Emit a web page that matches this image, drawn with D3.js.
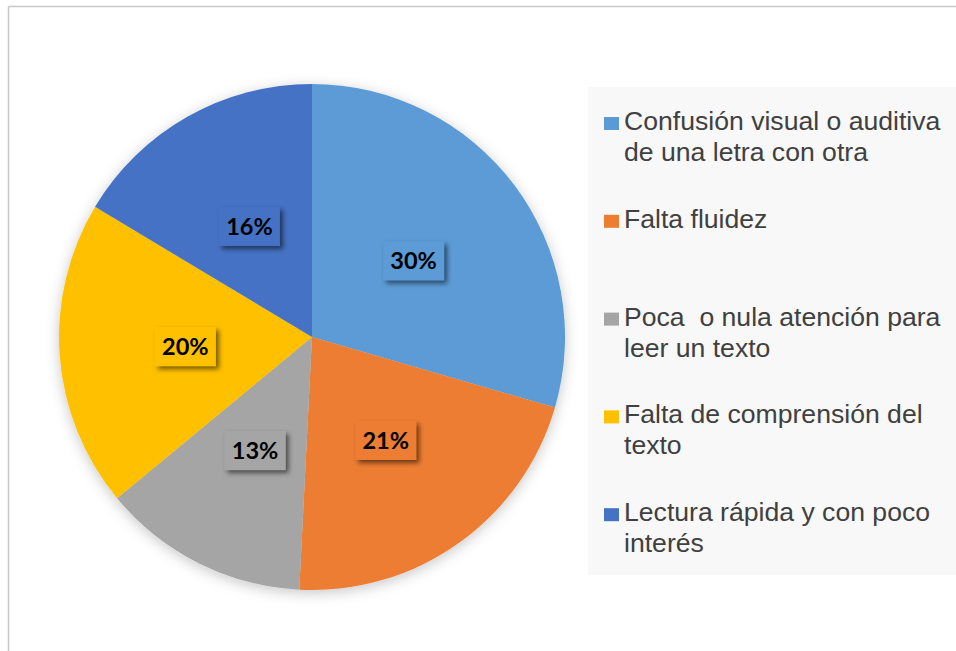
<!DOCTYPE html>
<html>
<head>
<meta charset="utf-8">
<script src="https://cdn.jsdelivr.net/npm/d3@7/dist/d3.min.js"></script>
<style>
  html, body { margin: 0; padding: 0; background: #ffffff; }
  svg { display: block; }
  text { white-space: pre; }
</style>
</head>
<body>
<svg id="chart" width="956" height="651"></svg>
<script>
// Data
const categories = [
  "Confusión visual o auditiva de una letra con otra",
  "Falta fluidez",
  "Poca  o nula atención para leer un texto",
  "Falta de comprensión del texto",
  "Lectura rápida y con poco interés"
];
const legendLines = [
  ["Confusión visual o auditiva", "de una letra con otra"],
  ["Falta fluidez"],
  ["Poca  o nula atención para", "leer un texto"],
  ["Falta de comprensión del", "texto"],
  ["Lectura rápida y con poco", "interés"]
];
const values = [29.5, 21.3, 13.2, 19.6, 16.4];
const valueLabels = ["30%", "21%", "13%", "20%", "16%"];
const colors = ["#5B9BD5", "#ED7D31", "#A5A5A5", "#FFC000", "#4472C4"];

const svg = d3.select("#chart");
const W = 956, H = 651;

// defs: shadows
const defs = svg.append("defs");
const pieShadow = defs.append("filter").attr("id", "pieShadow")
  .attr("x", "-20%").attr("y", "-20%").attr("width", "140%").attr("height", "140%");
pieShadow.append("feDropShadow").attr("dx", 0).attr("dy", 3).attr("stdDeviation", 7)
  .attr("flood-color", "#000").attr("flood-opacity", 0.22);
const lblShadow = defs.append("filter").attr("id", "lblShadow")
  .attr("x", "-30%").attr("y", "-30%").attr("width", "160%").attr("height", "160%");
lblShadow.append("feDropShadow").attr("dx", 3).attr("dy", 3).attr("stdDeviation", 2.5)
  .attr("flood-color", "#000").attr("flood-opacity", 0.55);

// Chart frame (top and left edges visible)
svg.append("line").attr("x1", 8.5).attr("y1", 6.5).attr("x2", W).attr("y2", 6.5)
  .attr("stroke", "#c8c8c8").attr("stroke-width", 1.5);
svg.append("line").attr("x1", 8.5).attr("y1", 6.5).attr("x2", 8.5).attr("y2", H)
  .attr("stroke", "#c8c8c8").attr("stroke-width", 1.5);

// Legend background
const legendX = 588, legendY = 87, legendW = W - 588, legendH = 575 - 87;
svg.append("rect").attr("x", legendX).attr("y", legendY)
  .attr("width", legendW).attr("height", legendH).attr("fill", "#f8f8f8");

// Pie
const cx = 312, cy = 337, R = 253;
const pie = d3.pie().sort(null).value(d => d)(values);
const arc = d3.arc().innerRadius(0).outerRadius(R);
const labelArc = d3.arc().innerRadius(127).outerRadius(127);

const g = svg.append("g").attr("transform", `translate(${cx},${cy})`);
g.append("g").attr("filter", "url(#pieShadow)")
  .selectAll("path").data(pie).join("path")
  .attr("d", arc)
  .attr("fill", (d, i) => colors[i]);

// Data labels
const lbl = g.append("g").selectAll("g").data(pie).join("g")
  .attr("transform", d => `translate(${labelArc.centroid(d)})`);
const bw = 61, bh = 39;
lbl.append("rect")
  .attr("x", -bw / 2).attr("y", -bh / 2).attr("width", bw).attr("height", bh)
  .attr("fill", (d, i) => colors[i])
  .attr("filter", "url(#lblShadow)");
lbl.append("text")
  .attr("text-anchor", "middle").attr("dy", "0.36em")
  .attr("font-family", "Lato, 'Open Sans', sans-serif")
  .attr("font-weight", 700).attr("font-size", 23.5)
  .attr("fill", "#000")
  .text((d, i) => valueLabels[i]);

// Legend
const entryY0 = 130, entryStep = 97.8, lineH = 31;
const leg = svg.append("g").selectAll("g").data(categories).join("g")
  .attr("transform", (d, i) => `translate(0,${entryY0 + i * entryStep})`);
leg.append("rect").attr("x", 604).attr("y", -13).attr("width", 15).attr("height", 13)
  .attr("fill", (d, i) => colors[i]);
const lt = leg.append("text")
  .attr("x", 624)
  .attr("font-family", "'Liberation Sans', Arial, sans-serif")
  .attr("font-size", 26.6).attr("fill", "#404040");
lt.selectAll("tspan").data((d, i) => legendLines[i]).join("tspan")
  .attr("x", 624).attr("y", (d, j) => j * lineH)
  .text(d => d);
</script>
</body>
</html>
